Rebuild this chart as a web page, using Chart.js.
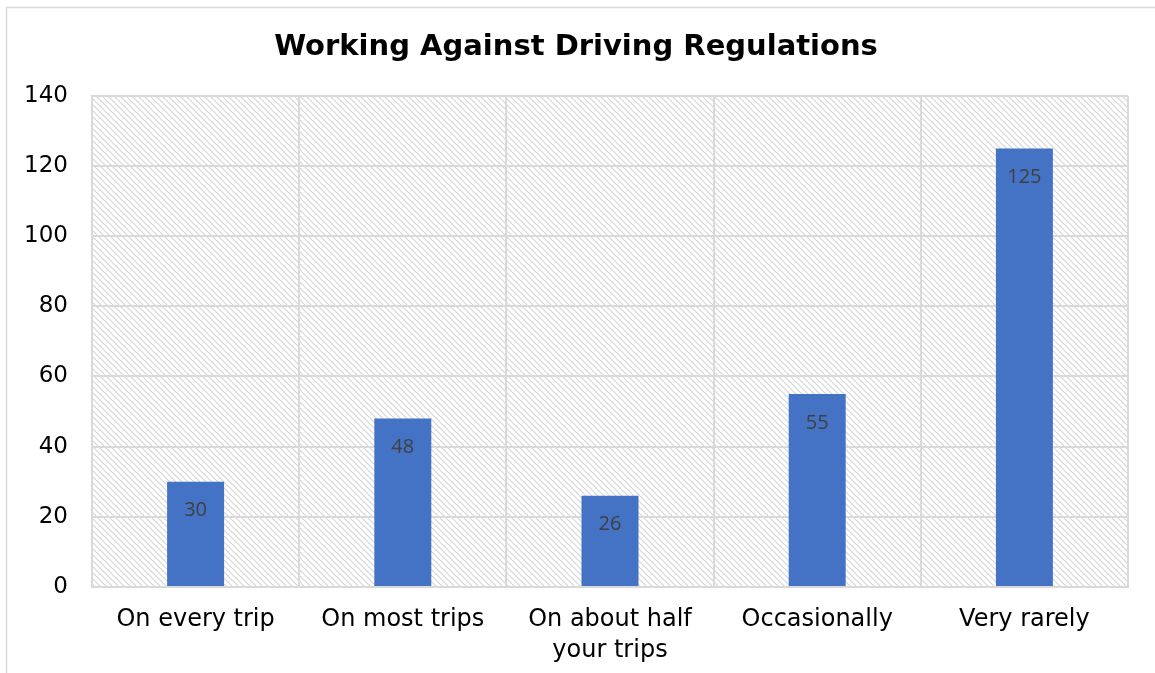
<!DOCTYPE html>
<html>
<head>
<meta charset="utf-8">
<script src="https://cdn.jsdelivr.net/npm/chart.js@4/dist/chart.umd.min.js"></script>
<style>
  html, body { margin: 0; padding: 0; background: #fff; }
  #wrap { width: 1155px; height: 673px; }
</style>
</head>
<body>
<div id="wrap"><canvas id="chart" width="1155" height="673"></canvas></div>
<script>
const categories = ["On every trip", "On most trips", ["On about half", "your trips"], "Occasionally", "Very rarely"];
const counts = [30, 48, 26, 55, 125];
const yTicks = [0, 20, 40, 60, 80, 100, 120, 140];

// light diagonal hatch used behind the plot
function makeHatch() {
  const s = 6;
  const c = document.createElement("canvas");
  c.width = s; c.height = s;
  const g = c.getContext("2d");
  g.fillStyle = "#ffffff";
  g.fillRect(0, 0, s, s);
  g.strokeStyle = "#d4d4d4";
  g.lineWidth = 1.1;
  g.beginPath();
  g.moveTo(-1, -1); g.lineTo(s + 1, s + 1);
  g.moveTo(-1, s - 1); g.lineTo(1, s + 1);
  g.moveTo(s - 1, -1); g.lineTo(s + 1, 1);
  g.stroke();
  return g.createPattern(c, "repeat");
}

const frameAndHatch = {
  id: "frameAndHatch",
  beforeDraw(chart) {
    const ctx = chart.ctx;
    const a = chart.chartArea;
    ctx.save();
    ctx.strokeStyle = "#d9d9d9";
    ctx.lineWidth = 1.5;
    ctx.strokeRect(6.5, 7.5, 1170, 700);
    ctx.fillStyle = makeHatch();
    ctx.fillRect(a.left, a.top, a.right - a.left, a.bottom - a.top);
    ctx.restore();
  }
};

// value labels just inside the top of each bar
const barValues = {
  id: "barValues",
  afterDatasetsDraw(chart) {
    const ctx = chart.ctx;
    const meta = chart.getDatasetMeta(0);
    ctx.save();
    ctx.fillStyle = "#404040";
    ctx.font = "20px 'Open Sans'";
    ctx.textAlign = "center";
    ctx.textBaseline = "middle";
    meta.data.forEach((bar, i) => {
      ctx.fillText(String(counts[i]), bar.x, bar.y + 29);
    });
    ctx.restore();
  }
};

const ctx = document.getElementById("chart").getContext("2d");
new Chart(ctx, {
  type: "bar",
  data: {
    labels: categories,
    datasets: [{
      data: counts,
      backgroundColor: "#4472C4",
      barPercentage: 0.275,
      categoryPercentage: 1.0
    }]
  },
  options: {
    responsive: false,
    animation: false,
    layout: { padding: { left: 24, right: 27, top: 30, bottom: 0 } },
    plugins: {
      legend: { display: false },
      tooltip: { enabled: false },
      title: {
        display: true,
        text: "Working Against Driving Regulations",
        color: "#000",
        font: { family: "'DejaVu Sans', Verdana", size: 29, weight: "bold" },
        padding: { top: 0, bottom: 31 }
      }
    },
    scales: {
      x: {
        grid: { color: "#d9d9d9", lineWidth: 2, offset: true, drawTicks: false },
        border: { color: "#d9d9d9", width: 2 },
        afterFit(axis) {
          axis.height = 86;
          axis.paddingLeft = 0;
          axis.paddingRight = 0;
        },
        ticks: {
          color: "#000",
          font: { family: "'DejaVu Sans', Verdana", size: 24, lineHeight: 1.3 },
          padding: 17,
          maxRotation: 0
        }
      },
      y: {
        min: 0,
        max: 140,
        afterBuildTicks(axis) { axis.ticks = yTicks.map(v => ({ value: v })); },
        afterFit(axis) { axis.width = 68; },
        grid: { color: "#d9d9d9", lineWidth: 2, drawTicks: false },
        border: { color: "#d9d9d9", width: 2 },
        ticks: {
          color: "#000",
          font: { family: "'DejaVu Sans', Verdana", size: 23 },
          padding: 24
        }
      }
    }
  },
  plugins: [frameAndHatch, barValues]
});
</script>
</body>
</html>
